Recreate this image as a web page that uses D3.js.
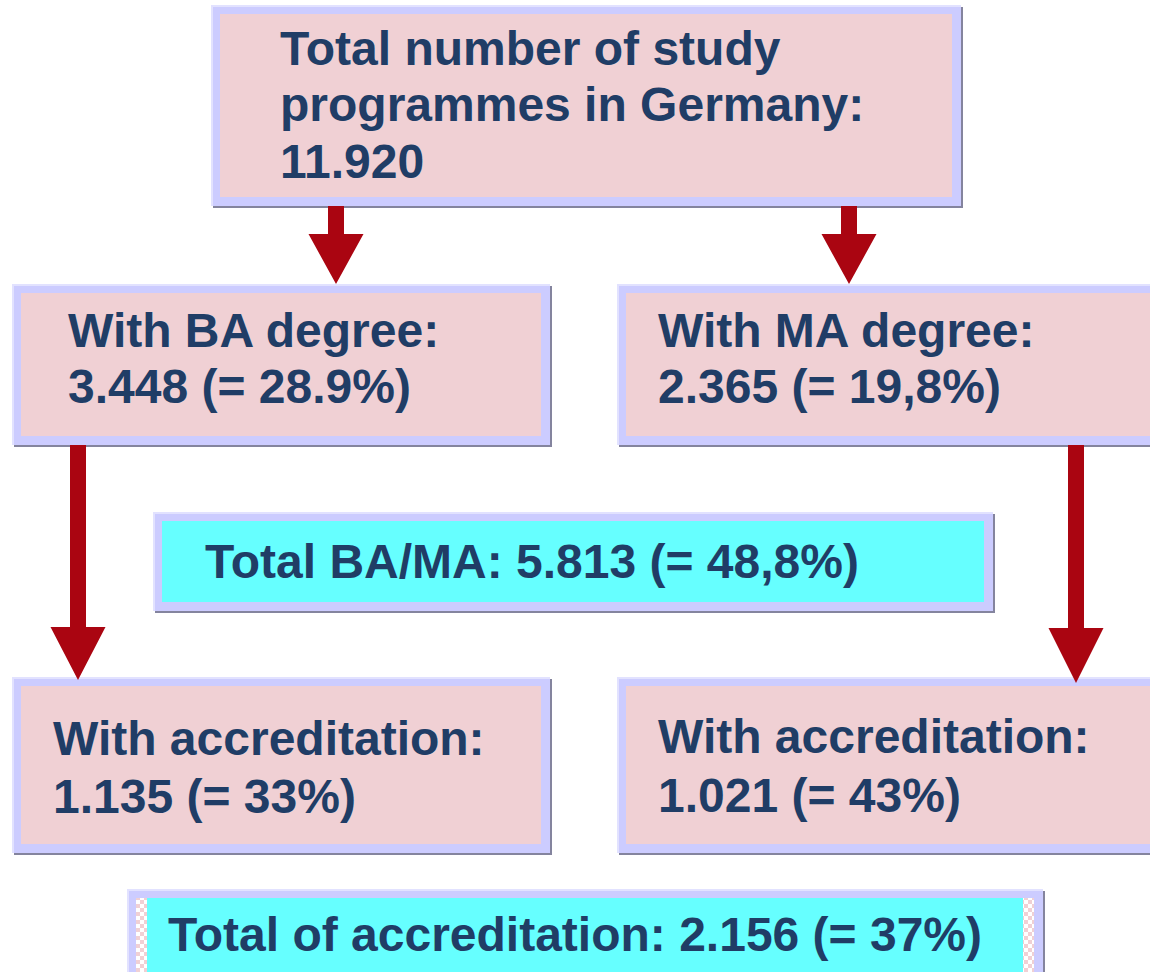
<!DOCTYPE html>
<html>
<head>
<meta charset="utf-8">
<script src="https://cdn.jsdelivr.net/npm/d3@7"></script>
<style>
  html, body { margin: 0; padding: 0; background: #fff; overflow: hidden; }
  svg { display: block; }
</style>
</head>
<body>
<div id="app"></div>
<script>
// data
const totalLines = ['Total number of study', 'programmes in Germany:', '11.920'];
const degreeLabels = ['With BA degree:', 'With MA degree:'];
const degreeValues = ['3.448 (= 28.9%)', '2.365 (= 19,8%)'];
const baMaLabel = 'Total BA/MA: 5.813 (= 48,8%)';
const accrLabels = ['With accreditation:', 'With accreditation:'];
const accrValues = ['1.135 (= 33%)', '1.021 (= 43%)'];
const accrTotalLabel = 'Total of accreditation: 2.156 (= 37%)';

const width = 1150;
const height = 972;

const pink = '#f0d0d4';
const cyan = '#66ffff';
const border = '#ccccff';
const edge = '#e2e2ff';
const shadow = '#84849e';
const ink = '#203d66';
const arrowRed = '#aa0511';

const svg = d3.select('#app').append('svg')
  .attr('width', width)
  .attr('height', height)
  .style('font-family', '"Liberation Sans", Arial, sans-serif');

// layout
const boxes = [
  { x: 211, y: 5, w: 750, h: 201, fill: pink, lines: totalLines, tx: 280, ty: [65, 121, 178] },
  { x: 12, y: 284, w: 538, h: 161, fill: pink, lines: [degreeLabels[0], degreeValues[0]], tx: 68, ty: [347, 403] },
  { x: 617, y: 284, w: 560, h: 161, fill: pink, lines: [degreeLabels[1], degreeValues[1]], tx: 658, ty: [347, 403] },
  { x: 153, y: 512, w: 840, h: 99, fill: cyan, lines: [baMaLabel], tx: 205, ty: [578] },
  { x: 12, y: 677, w: 538, h: 176, fill: pink, lines: [accrLabels[0], accrValues[0]], tx: 53, ty: [755, 813] },
  { x: 617, y: 677, w: 560, h: 176, fill: pink, lines: [accrLabels[1], accrValues[1]], tx: 658, ty: [753, 812] },
  { x: 127, y: 889, w: 916, h: 100, fill: cyan, lines: [accrTotalLabel], tx: 168, ty: [951], checker: true }
];

const arrows = [
  { cx: 336, y0: 206, yHead: 234, yTip: 284 },
  { cx: 849, y0: 206, yHead: 234, yTip: 284 },
  { cx: 78, y0: 445, yHead: 627, yTip: 680 },
  { cx: 1076, y0: 445, yHead: 628, yTip: 683 }
];

const inset = 9;

const g = svg.append('g')
  .selectAll('g')
  .data(boxes)
  .enter().append('g');

g.append('rect')
  .attr('x', d => d.x + 2)
  .attr('y', d => d.y + 2)
  .attr('width', d => d.w)
  .attr('height', d => d.h)
  .attr('fill', shadow);

g.append('rect')
  .attr('x', d => d.x)
  .attr('y', d => d.y)
  .attr('width', d => d.w)
  .attr('height', d => d.h)
  .attr('fill', border);

g.append('path')
  .attr('d', d => `M${d.x + 1},${d.y + d.h}V${d.y + 1}H${d.x + d.w}`)
  .attr('fill', 'none')
  .attr('stroke', edge)
  .attr('stroke-width', 2);

g.append('rect')
  .attr('x', d => d.x + inset)
  .attr('y', d => d.y + inset)
  .attr('width', d => d.w - 2 * inset)
  .attr('height', d => d.h - 2 * inset)
  .attr('fill', d => d.fill);

// checkered side strips on the last box
const checkBox = boxes.filter(d => d.checker);
const pat = svg.append('defs').append('pattern')
  .attr('id', 'chk')
  .attr('patternUnits', 'userSpaceOnUse')
  .attr('width', 8)
  .attr('height', 8);
pat.append('rect').attr('width', 8).attr('height', 8).attr('fill', '#fff');
pat.append('rect').attr('width', 4).attr('height', 4).attr('fill', pink);
pat.append('rect').attr('x', 4).attr('y', 4).attr('width', 4).attr('height', 4).attr('fill', pink);

checkBox.forEach(d => {
  [d.x + inset, d.x + d.w - inset - 11].forEach(sx => {
    svg.append('rect')
      .attr('x', sx)
      .attr('y', d.y + inset)
      .attr('width', 11)
      .attr('height', d.h - 2 * inset)
      .attr('fill', 'url(#chk)');
  });
});

g.each(function (d) {
  d3.select(this).selectAll('text')
    .data(d.lines)
    .enter().append('text')
    .attr('x', d.tx)
    .attr('y', (_, i) => d.ty[i])
    .attr('fill', ink)
    .attr('font-size', 48)
    .attr('font-weight', 'bold')
    .text(t => t);
});

const stemW = 16;
const headW = 55;

svg.append('g')
  .selectAll('path')
  .data(arrows)
  .enter().append('path')
  .attr('fill', arrowRed)
  .attr('d', d => {
    const p = d3.path();
    p.moveTo(d.cx - stemW / 2, d.y0);
    p.lineTo(d.cx + stemW / 2, d.y0);
    p.lineTo(d.cx + stemW / 2, d.yHead);
    p.lineTo(d.cx + headW / 2, d.yHead);
    p.lineTo(d.cx, d.yTip);
    p.lineTo(d.cx - headW / 2, d.yHead);
    p.lineTo(d.cx - stemW / 2, d.yHead);
    p.closePath();
    return p.toString();
  });
</script>
</body>
</html>
